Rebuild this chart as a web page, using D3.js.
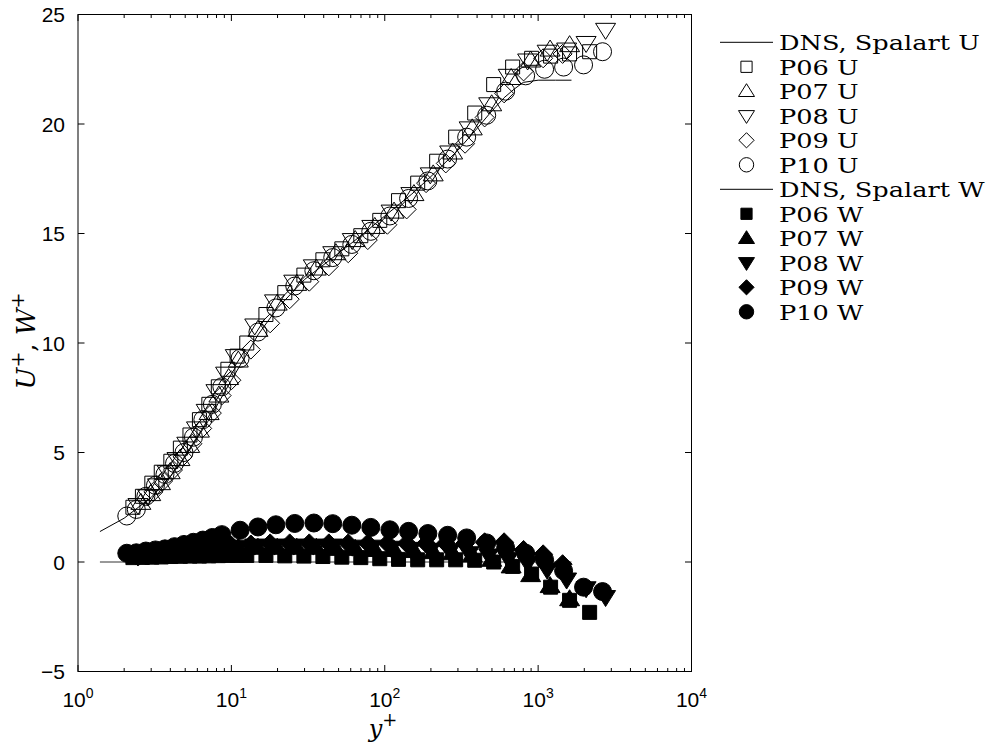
<!DOCTYPE html>
<html><head><meta charset="utf-8">
<script src="https://cdn.jsdelivr.net/npm/d3@7"></script>
<style>body{margin:0;background:#fff} svg{display:block}</style>
</head><body><svg id="c" width="998" height="744"></svg>
<script>
// ---- data ----
const dnsYPlus = [1.39,2,3,4,5,7,10,15,20,30,50,70,100,150,200,300,400,500,600,700,800,1000,1300,1650];
const dnsU     = [1.39,2.0,2.95,3.9,4.8,6.4,8.3,10.4,11.6,12.9,14.1,14.9,15.8,16.8,17.6,18.8,19.8,20.6,21.2,21.6,21.9,22.0,22.0,22.0];
const dnsWYPlus = [1.39,1650];
const dnsW      = [0,0];

const yPlus06 = [2.28,2.63,3.03,3.49,4.03,4.65,5.37,6.19,7.13,8.22,9.49,10.9,12.6,16.8,22.3,29.7,39.5,52.5,69.8,92.8,123,164,218,290,386,513,682,907,1206,1603,2167];
const U06 = [2.5,3.0,3.6,4.1,4.6,5.2,5.8,6.5,7.2,8.0,8.8,9.4,10.0,11.3,12.3,13.1,13.8,14.3,14.9,15.6,16.5,17.3,18.3,19.4,20.5,21.8,22.6,23.0,23.1,23.2,23.3];
const W06 = [0.2,0.21,0.22,0.23,0.25,0.26,0.27,0.27,0.28,0.29,0.3,0.3,0.3,0.3,0.28,0.27,0.25,0.22,0.2,0.15,0.12,0.1,0.1,0.1,0.08,0.0,-0.2,-0.55,-1.15,-1.75,-2.3];

const yPlus07 = [2.57,2.98,3.45,3.99,4.62,5.35,6.19,7.16,8.29,9.6,11.1,14.9,19.9,26.7,35.8,48.0,64.2,86.1,115,155,207,277,372,498,667,894,1197,1604];
const U07 = [2.7,3.1,3.6,4.1,4.7,5.3,6.0,6.8,7.6,8.4,9.2,10.6,11.8,12.7,13.4,14.1,14.7,15.3,16.0,16.8,17.7,18.7,19.8,20.9,22.1,22.9,23.4,23.6];
const W07 = [0.25,0.3,0.35,0.4,0.45,0.5,0.55,0.58,0.6,0.62,0.65,0.65,0.65,0.65,0.65,0.6,0.6,0.55,0.55,0.5,0.45,0.4,0.3,0.1,-0.2,-0.6,-1.1,-1.7];

const yPlus08 = [2.46,2.85,3.30,3.82,4.42,5.12,5.92,6.85,7.93,9.17,10.6,14.2,19.1,25.5,34.2,45.8,61.4,82.3,110,148,198,265,355,476,638,854,1145,1534,2055,2753];
const U08 = [2.6,3.0,3.5,4.1,4.7,5.4,6.1,6.9,7.8,8.6,9.4,10.8,11.9,12.8,13.5,14.1,14.7,15.3,16.0,16.8,17.7,18.7,19.8,20.9,22.2,22.9,23.3,23.4,23.7,24.3];
const W08 = [0.25,0.3,0.35,0.4,0.45,0.5,0.55,0.6,0.65,0.67,0.7,0.75,0.75,0.75,0.75,0.75,0.7,0.7,0.65,0.6,0.55,0.5,0.4,0.3,0.15,-0.05,-0.35,-0.8,-1.2,-1.6];

const yPlus09 = [3.10,3.59,4.16,4.81,5.57,6.45,7.46,8.64,10.0,13.4,17.9,24.0,32.2,43.2,57.8,77.5,104,139,186,250,334,448,600,804,1078,1444];
const U09 = [3.2,3.7,4.2,4.8,5.4,6.1,6.8,7.6,8.3,9.7,10.9,12.0,12.8,13.5,14.1,14.7,15.4,16.1,17.3,18.2,19.1,20.3,21.4,22.4,23.0,23.2];
const W09 = [0.35,0.4,0.45,0.5,0.55,0.6,0.65,0.7,0.75,0.8,0.85,0.85,0.85,0.85,0.85,0.85,0.85,0.85,0.85,0.85,0.85,0.9,0.9,0.55,0.35,-0.1];

const yPlus10 = [2.08,2.4,2.77,3.2,3.69,4.26,4.91,5.66,6.52,7.52,8.67,11.4,14.9,19.5,25.9,34.5,45.8,61.0,81.1,108,143,191,257,342,462,614,829,1102,1466,1978,2630];
const U10 = [2.1,2.4,3.0,3.5,4.0,4.5,5.0,5.7,6.5,7.2,8.0,9.3,10.5,11.6,12.6,13.3,13.9,14.5,15.1,15.8,16.6,17.4,18.4,19.4,20.4,21.5,22.2,22.5,22.6,22.7,23.3];
const W10 = [0.4,0.42,0.5,0.55,0.6,0.7,0.8,0.9,1.0,1.12,1.25,1.45,1.6,1.7,1.76,1.78,1.75,1.68,1.58,1.47,1.4,1.3,1.22,1.1,0.87,0.65,0.4,0.1,-0.4,-1.15,-1.35];

const xTickValues = [1,10,100,1000,10000];
const xTickExponents = ["0","1","2","3","4"];
const yTickValues = [-5,0,5,10,15,20,25];
const yTickLabels = ["\u22125","0","5","10","15","20","25"];
const legendLabels = ["DNS, Spalart U","P06 U","P07 U","P08 U","P09 U","P10 U",
                      "DNS, Spalart W","P06 W","P07 W","P08 W","P09 W","P10 W"];
const markerShapes = ["square","triUp","triDown","diamond","circle"];

// ---- layout ----
const svg = d3.select("#c");
const L = 78, R = 691.5, T = 14.5, B = 671.5;
const x = d3.scaleLog().domain([1,1e4]).range([L,R]);
const y = d3.scaleLinear().domain([-5,25]).range([B,T]);

function shapePath(s, k){
  switch(s){
    case "square":  { const h=7*k; return `M${-h},${-h}H${h}V${h}H${-h}Z`; }
    case "triUp":   return `M0,${-9.5*k}L${10*k},${6.5*k}L${-10*k},${6.5*k}Z`;
    case "triDown": return `M0,${9.5*k}L${10*k},${-6.5*k}L${-10*k},${-6.5*k}Z`;
    case "diamond": return `M0,${-9.5*k}L${9.5*k},0L0,${9.5*k}L${-9.5*k},0Z`;
    case "circle":  { const r=9*k; return `M${r},0A${r},${r} 0 1,1 ${-r},0A${r},${r} 0 1,1 ${r},0Z`; }
  }
}

const uSeries = [[yPlus06,U06],[yPlus07,U07],[yPlus08,U08],[yPlus09,U09],[yPlus10,U10]];
const wSeries = [[yPlus06,W06],[yPlus07,W07],[yPlus08,W08],[yPlus09,W09],[yPlus10,W10]];

const plot = svg.append("g");
const line = d3.line().x(d=>x(d[0])).y(d=>y(d[1]));

// DNS U
plot.append("path").attr("d", line(dnsYPlus.map((v,i)=>[v,dnsU[i]])))
  .attr("fill","none").attr("stroke","#000").attr("stroke-width",1);
uSeries.forEach((s,k)=>{
  plot.append("g").selectAll("path").data(s[0].map((v,i)=>[v,s[1][i]])).join("path")
    .attr("d", shapePath(markerShapes[k],1))
    .attr("transform", d=>`translate(${x(d[0])},${y(d[1])})`)
    .attr("fill","none").attr("stroke","#000").attr("stroke-width",1);
});
// DNS W
plot.append("path").attr("d", line(dnsWYPlus.map((v,i)=>[v,dnsW[i]])))
  .attr("fill","none").attr("stroke","#333").attr("stroke-width",1);
wSeries.forEach((s,k)=>{
  plot.append("g").selectAll("path").data(s[0].map((v,i)=>[v,s[1][i]])).join("path")
    .attr("d", shapePath(markerShapes[k],1))
    .attr("transform", d=>`translate(${x(d[0])},${y(d[1])})`)
    .attr("fill","#000").attr("stroke","#000").attr("stroke-width",1);
});

// ---- axes box & ticks ----
const ax = svg.append("g").attr("stroke","#000").attr("stroke-width",1).attr("fill","none");
ax.append("rect").attr("x",L).attr("y",T).attr("width",R-L).attr("height",B-T);
const minor = [];
for (let dec=1; dec<1e4; dec*=10) for (let m=2; m<=9; m++) minor.push(dec*m);
minor.forEach(v=>{
  ax.append("line").attr("x1",x(v)).attr("x2",x(v)).attr("y1",B).attr("y2",B-3.5);
  ax.append("line").attr("x1",x(v)).attr("x2",x(v)).attr("y1",T).attr("y2",T+3.5);
});
xTickValues.forEach(v=>{
  ax.append("line").attr("x1",x(v)).attr("x2",x(v)).attr("y1",B).attr("y2",B-6.5);
  ax.append("line").attr("x1",x(v)).attr("x2",x(v)).attr("y1",T).attr("y2",T+6.5);
});
yTickValues.forEach(v=>{
  ax.append("line").attr("x1",L).attr("x2",L+6.5).attr("y1",y(v)).attr("y2",y(v));
  ax.append("line").attr("x1",R).attr("x2",R-6.5).attr("y1",y(v)).attr("y2",y(v));
});

const tickFont = "'Liberation Sans', Arial, sans-serif";
xTickValues.forEach((v,i)=>{
  const t = svg.append("text").attr("x",x(v)).attr("y",B+35)
    .attr("text-anchor","middle").attr("font-family",tickFont).attr("font-size",21).attr("fill","#000");
  t.append("tspan").text("10");
  t.append("tspan").attr("dy",-9).attr("font-size",14).text(xTickExponents[i]);
});
yTickValues.forEach((v,i)=>{
  svg.append("text").attr("x",L-13).attr("y",y(v)).attr("dy","0.36em")
    .attr("text-anchor","end").attr("font-family",tickFont).attr("font-size",21).attr("fill","#000")
    .text(yTickLabels[i]);
});

// ---- axis labels ----
const serif = "'DejaVu Serif', serif";
const xl = svg.append("text").attr("x",383).attr("y",737).attr("text-anchor","middle")
  .attr("font-family",serif).attr("font-size",24).attr("fill","#000");
xl.append("tspan").attr("font-style","italic").text("y");
xl.append("tspan").attr("dy",-11).attr("font-size",18).text("+");

const yl = svg.append("text").attr("transform","translate(35,341) rotate(-90)").attr("text-anchor","middle")
  .attr("font-family",serif).attr("font-size",26).attr("fill","#000");
yl.append("tspan").attr("font-style","italic").text("U");
yl.append("tspan").attr("dy",-11).attr("font-size",19).text("+");
yl.append("tspan").attr("dy",11).text(", ");
yl.append("tspan").attr("font-style","italic").text("W");
yl.append("tspan").attr("dy",-11).attr("font-size",19).text("+");

// ---- legend ----
const lg = svg.append("g");
const legY0 = 42.3, legDy = 24.5, legMX = 746.5, legTX = 779;
legendLabels.forEach((lab,i)=>{
  const cy = legY0 + i*legDy;
  const grp = i<6 ? 0 : 1;
  const idx = i%6;
  if (idx===0){
    lg.append("line").attr("x1",720).attr("x2",773).attr("y1",cy).attr("y2",cy)
      .attr("stroke","#000").attr("stroke-width",1);
  } else {
    lg.append("path").attr("d",shapePath(markerShapes[idx-1],0.8))
      .attr("transform",`translate(${legMX},${cy})`)
      .attr("fill", grp===0 ? "none" : "#000").attr("stroke","#000").attr("stroke-width",1);
  }
  lg.append("text").attr("transform",`translate(${legTX},${cy+8}) scale(1.22,1)`)
    .attr("font-family",serif).attr("font-size",21).attr("fill","#000").text(lab);
});
</script></body></html>
